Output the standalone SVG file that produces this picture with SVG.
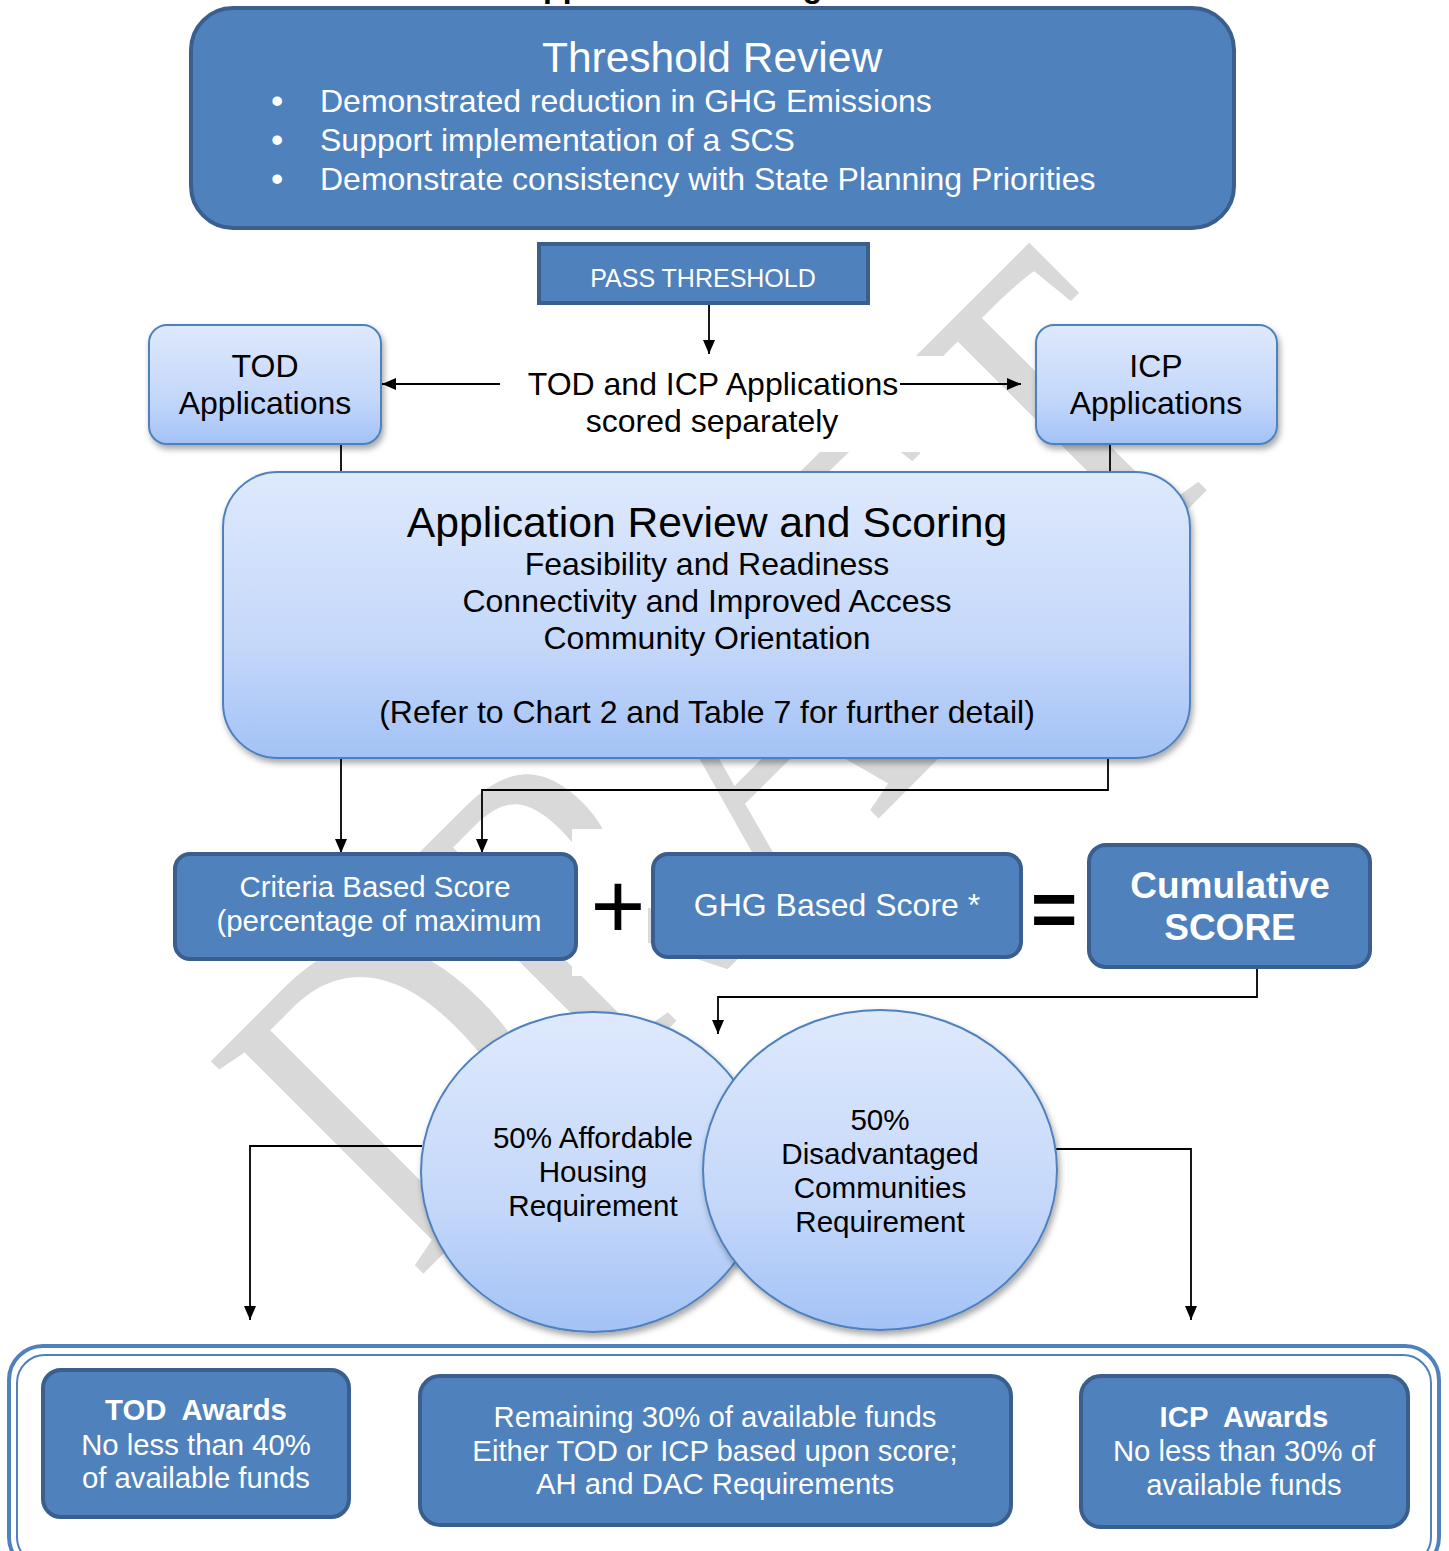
<svg xmlns="http://www.w3.org/2000/svg" width="1449" height="1551" viewBox="0 0 1449 1551">
<defs>
<style>
text{font-family:"Liberation Sans",Arial,sans-serif}
.dark{fill:#4f81bd;stroke:#3a5f8f;stroke-width:4}
.light{fill:url(#lg);stroke:#4f81bd;stroke-width:2}
.wt{fill:#ffffff;text-anchor:middle}
.bt{fill:#000000;text-anchor:middle}
.conn{fill:none;stroke:#000;stroke-width:1.8}
</style>
<linearGradient id="lg" x1="0" y1="0" x2="0" y2="1">
<stop offset="0" stop-color="#dee9fc"/>
<stop offset="0.6" stop-color="#c5d8fa"/>
<stop offset="1" stop-color="#a3c2f6"/>
</linearGradient>
<filter id="sh" x="-10%" y="-10%" width="120%" height="130%">
<feDropShadow dx="2" dy="4" stdDeviation="3" flood-color="#000" flood-opacity="0.35"/>
</filter>
<marker id="ah" viewBox="0 0 14 14" refX="14" refY="7" markerWidth="14" markerHeight="14" markerUnits="userSpaceOnUse" orient="auto">
<path d="M0,1 L14,7 L0,13 Z" fill="#000"/>
</marker>
</defs>
<rect width="1449" height="1551" fill="#ffffff"/>

<!-- watermark -->
<g id="watermark">
<text transform="translate(831,866) rotate(-45) scale(0.78,1)" x="0" y="0" text-anchor="middle" font-size="459" style="font-family:'Liberation Serif','Times New Roman',serif" fill="#d9d9d9">DRAFT</text>
<rect x="500" y="356" width="455" height="96" fill="#ffffff"/>
<rect x="572" y="829" width="76" height="147" fill="#ffffff"/>
<rect x="1026" y="860" width="58" height="95" fill="#ffffff"/>
</g>

<!-- partially visible title -->
<text x="520" y="-3" font-size="32" font-weight="bold" fill="#000">Application Scoring</text>

<g id="connectors">
<line class="conn" x1="709" y1="304" x2="709" y2="354" marker-end="url(#ah)"/>
<line class="conn" x1="500" y1="384" x2="382" y2="384" marker-end="url(#ah)"/>
<line class="conn" x1="900" y1="384" x2="1021" y2="384" marker-end="url(#ah)"/>
<line class="conn" x1="341" y1="445" x2="341" y2="472"/>
<line class="conn" x1="1110" y1="445" x2="1110" y2="472"/>
<line class="conn" x1="341" y1="758" x2="341" y2="853" marker-end="url(#ah)"/>
<polyline class="conn" points="1108,758 1108,790 482,790 482,853" marker-end="url(#ah)"/>
<polyline class="conn" points="1257,968 1257,997 718,997 718,1034" marker-end="url(#ah)"/>
<polyline class="conn" points="422,1146 250,1146 250,1320" marker-end="url(#ah)"/>
<polyline class="conn" points="1056,1149 1191,1149 1191,1320" marker-end="url(#ah)"/>
</g>

<g id="threshold-review">
<rect class="dark" x="191" y="8" width="1043" height="220" rx="42"/>
<text class="wt" x="712" y="72" font-size="42.5">Threshold Review</text>
<g font-size="32" fill="#fff">
<text x="271" y="113" font-size="35">•</text>
<text x="320" y="112">Demonstrated reduction in GHG Emissions</text>
<text x="271" y="152" font-size="35">•</text>
<text x="320" y="151">Support implementation of a SCS</text>
<text x="271" y="191" font-size="35">•</text>
<text x="320" y="190">Demonstrate consistency with State Planning Priorities</text>
</g>
</g>

<g id="pass-threshold">
<rect class="dark" x="539" y="244" width="329" height="59" stroke-width="3.5"/>
<text class="wt" x="703" y="287" font-size="25">PASS THRESHOLD</text>
</g>

<g id="scored-separately">
<text class="bt" x="713" y="395" font-size="32">TOD and ICP Applications</text>
<text class="bt" x="712" y="432" font-size="32">scored separately</text>
</g>

<g id="tod-applications">
<rect class="light" x="149" y="325" width="232" height="119" rx="18" filter="url(#sh)"/>
<text class="bt" x="265" y="377" font-size="32">TOD</text>
<text class="bt" x="265" y="414" font-size="32">Applications</text>
</g>

<g id="icp-applications">
<rect class="light" x="1036" y="325" width="241" height="119" rx="18" filter="url(#sh)"/>
<text class="bt" x="1156" y="377" font-size="32">ICP</text>
<text class="bt" x="1156" y="414" font-size="32">Applications</text>
</g>

<g id="application-review">
<rect class="light" x="223" y="472" width="967" height="286" rx="55" filter="url(#sh)"/>
<text class="bt" x="707" y="537" font-size="42.7">Application Review and Scoring</text>
<text class="bt" x="707" y="575" font-size="32">Feasibility and Readiness</text>
<text class="bt" x="707" y="612" font-size="32">Connectivity and Improved Access</text>
<text class="bt" x="707" y="649" font-size="32">Community Orientation</text>
<text class="bt" x="707" y="723" font-size="32">(Refer to Chart 2 and Table 7 for further detail)</text>
</g>

<g id="criteria-score">
<rect class="dark" x="175" y="854" width="401" height="105" rx="15"/>
<text class="wt" x="375" y="897" font-size="29.4">Criteria Based Score</text>
<text class="wt" x="379" y="931" font-size="29.4">(percentage of maximum</text>
</g>

<g id="plus">
<text class="bt" x="618" y="938" font-size="94">+</text>
</g>

<g id="ghg-score">
<rect class="dark" x="653" y="854" width="368" height="103" rx="15"/>
<text class="wt" x="837" y="916" font-size="32">GHG Based Score *</text>
</g>

<g id="equals">
<text class="bt" x="1054" y="936" font-size="80" font-weight="bold">=</text>
</g>

<g id="cumulative-score">
<rect class="dark" x="1089" y="845" width="281" height="122" rx="17"/>
<text class="wt" x="1230" y="898" font-size="37" font-weight="bold">Cumulative</text>
<text class="wt" x="1230" y="940" font-size="37" font-weight="bold">SCORE</text>
</g>

<g id="affordable-housing">
<ellipse class="light" cx="593" cy="1172" rx="172" ry="160" filter="url(#sh)"/>
<text class="bt" x="593" y="1148" font-size="29.6">50% Affordable</text>
<text class="bt" x="593" y="1182" font-size="29.6">Housing</text>
<text class="bt" x="593" y="1216" font-size="29.6">Requirement</text>
</g>

<g id="disadvantaged-communities">
<ellipse class="light" cx="880" cy="1170" rx="177" ry="160" filter="url(#sh)"/>
<text class="bt" x="880" y="1130" font-size="29.6">50%</text>
<text class="bt" x="880" y="1164" font-size="29.6">Disadvantaged</text>
<text class="bt" x="880" y="1198" font-size="29.6">Communities</text>
<text class="bt" x="880" y="1232" font-size="29.6">Requirement</text>
</g>

<g id="awards-container">
<rect x="9" y="1346" width="1430" height="225" rx="34" fill="none" stroke="#4f81bd" stroke-width="4"/>
<rect x="17" y="1355" width="1414" height="210" rx="28" fill="none" stroke="#4f81bd" stroke-width="2"/>
</g>

<g id="tod-awards">
<rect class="dark" x="43" y="1370" width="306" height="147" rx="18"/>
<text class="wt" x="196" y="1420" font-size="29.3" font-weight="bold" xml:space="preserve">TOD  Awards</text>
<text class="wt" x="196" y="1455" font-size="29.3">No less than 40%</text>
<text class="wt" x="196" y="1488" font-size="29.3">of available funds</text>
</g>

<g id="remaining-funds">
<rect class="dark" x="420" y="1376" width="591" height="149" rx="20"/>
<text class="wt" x="715" y="1427" font-size="29.3">Remaining 30% of available funds</text>
<text class="wt" x="715" y="1461" font-size="29.3">Either TOD or ICP based upon score;</text>
<text class="wt" x="715" y="1494" font-size="29.3">AH and DAC Requirements</text>
</g>

<g id="icp-awards">
<rect class="dark" x="1081" y="1376" width="327" height="151" rx="20"/>
<text class="wt" x="1244" y="1427" font-size="29.3" font-weight="bold" xml:space="preserve">ICP  Awards</text>
<text class="wt" x="1244" y="1461" font-size="29.3">No less than 30% of</text>
<text class="wt" x="1244" y="1495" font-size="29.3">available funds</text>
</g>
</svg>
